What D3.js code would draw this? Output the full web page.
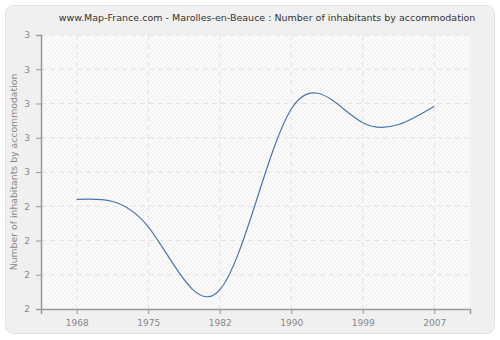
<!DOCTYPE html>
<html>
<head>
<meta charset="utf-8">
<script src="https://cdn.jsdelivr.net/npm/d3@7"></script>
<style>
  body { margin: 0; background: #fff; }
  text { font-family: "DejaVu Sans", Verdana, sans-serif; }
</style>
</head>
<body>
<div id="chart"></div>
<script>
var years = ["1968", "1975", "1982", "1990", "1999", "2007"]
var values = [2.4, 2.3, 2.07, 2.73, 2.68, 2.74]
var yTicks = [2, 2.125, 2.25, 2.375, 2.5, 2.625, 2.75, 2.875, 3]
var title = "www.Map-France.com - Marolles-en-Beauce : Number of inhabitants by accommodation"
var yTitle = "Number of inhabitants by accommodation"

var svgWidth = 500, svgHeight = 340
var margin = { top: 35, right: 30, bottom: 31, left: 41 }
var width = svgWidth - margin.left - margin.right
var height = svgHeight - margin.top - margin.bottom

var svg = d3.select("#chart").append("svg")
    .attr("width", svgWidth)
    .attr("height", svgHeight)

// hatch pattern for the plot background
var pat = svg.append("defs").append("pattern")
    .attr("id", "hatch")
    .attr("patternUnits", "userSpaceOnUse")
    .attr("width", 4).attr("height", 4)
pat.append("rect").attr("width", 4).attr("height", 4).attr("fill", "#fbfbfb")
pat.append("path").attr("d", "M-1,1 l2,-2 M0,4 l4,-4 M3,5 l2,-2")
    .attr("stroke", "#ececec").attr("stroke-width", 0.8)

// outer panel
svg.append("rect")
    .attr("x", 5.5).attr("y", 5.5)
    .attr("width", 489).attr("height", 328)
    .attr("rx", 8)
    .attr("fill", "#f0f0f0")
    .attr("stroke", "#e2e2e2")

svg.append("text")
    .attr("x", 267).attr("y", 21)
    .attr("text-anchor", "middle")
    .style("font-size", "9.5px")
    .style("fill", "#333")
    .text(title)

var chart = svg.append("g")
    .attr("transform", "translate(" + margin.left + "," + margin.top + ")")

chart.append("rect")
    .attr("width", width).attr("height", height)
    .attr("fill", "url(#hatch)")

var x = d3.scalePoint()
    .domain(years)
    .range([0, width])
    .padding(0.5)

var y = d3.scaleLinear()
    .domain([2, 3])
    .range([height, 0])

// grid
chart.selectAll("line.hgrid").data(yTicks.slice(1))
    .enter().append("line").attr("class", "hgrid")
    .attr("x1", 0).attr("x2", width)
    .attr("y1", function(d) { return y(d) }).attr("y2", function(d) { return y(d) })
    .attr("stroke", "#e2e2e2").attr("stroke-dasharray", "5,4")

chart.selectAll("line.vgrid").data(years)
    .enter().append("line").attr("class", "vgrid")
    .attr("x1", function(d) { return x(d) }).attr("x2", function(d) { return x(d) })
    .attr("y1", 0).attr("y2", height)
    .attr("stroke", "#e2e2e2").attr("stroke-dasharray", "5,4")

var line = d3.line()
    .x(function(d, i) { return x(years[i]) })
    .y(function(d) { return y(d) })
    .curve(d3.curveNatural)

chart.append("path")
    .datum(values)
    .attr("d", line)
    .attr("fill", "none")
    .attr("stroke", "#4a76a8")
    .attr("stroke-width", 1.2)

var xAxis = d3.axisBottom(x).tickSize(5).tickPadding(6)
var yAxis = d3.axisLeft(y).tickValues(yTicks).tickSize(5).tickPadding(6)
    .tickFormat(function(d) { return d3.format(".0f")(d) })

chart.append("g")
    .attr("transform", "translate(0," + height + ")")
    .call(function(g) { styleAxis(g, xAxis) })

chart.append("g")
    .call(function(g) { styleAxis(g, yAxis) })

svg.append("text")
    .attr("transform", "translate(17," + (margin.top + height / 2) + ") rotate(-90)")
    .attr("text-anchor", "middle")
    .style("font-size", "9.3px")
    .style("fill", "#888")
    .text(yTitle)

function styleAxis(g, axis) {
    g.call(axis)
    g.select(".domain").attr("stroke", "#999").attr("stroke-width", 1.5)
    g.selectAll("line").attr("stroke", "#999")
    g.selectAll("text").style("font-size", "9px").style("fill", "#888")
        .style("font-family", "DejaVu Sans, Verdana, sans-serif")
}
</script>
</body>
</html>
